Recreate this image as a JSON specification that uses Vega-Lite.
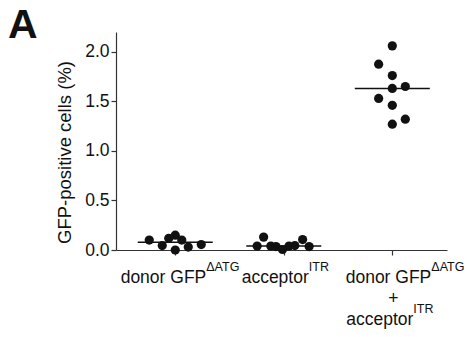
{
  "$schema": "https://vega.github.io/schema/vega-lite/v6.json",
  "width": 331,
  "height": 218,
  "autosize": "none",
  "padding": {"left": 116, "top": 32, "right": 20, "bottom": 87},
  "background": "white",
  "config": {
    "view": {"stroke": null},
    "font": "Liberation Sans",
    "axis": {
      "grid": false,
      "domainColor": "#333333",
      "tickColor": "#333333",
      "domainWidth": 1.2,
      "tickWidth": 1.2,
      "tickSize": 5,
      "labelColor": "#111111",
      "titleColor": "#111111",
      "labelFont": "Liberation Sans",
      "titleFont": "Liberation Sans",
      "labelFontSize": 17.5,
      "titleFontSize": 18.5,
      "titleFontWeight": "normal"
    },
    "text": {"font": "Liberation Sans", "color": "#111111", "baseline": "alphabetic"}
  },
  "title": {
    "text": "A",
    "anchor": "start",
    "frame": "group",
    "orient": "top",
    "offset": 0,
    "baseline": "top",
    "dx": -108,
    "dy": 15,
    "fontSize": 41,
    "fontWeight": "bold",
    "color": "#111111",
    "font": "Liberation Sans"
  },
  "datasets": {
    "cells": [
      {"group": "donor", "jitter": -4, "pct": 0.10},
      {"group": "donor", "jitter": -2, "pct": 0.045},
      {"group": "donor", "jitter": -1, "pct": 0.118},
      {"group": "donor", "jitter": 0, "pct": 0.15},
      {"group": "donor", "jitter": 1, "pct": 0.10},
      {"group": "donor", "jitter": 0, "pct": 0.0},
      {"group": "donor", "jitter": 2, "pct": 0.03},
      {"group": "donor", "jitter": 4, "pct": 0.055},
      {"group": "acceptor", "jitter": -4.1, "pct": 0.04},
      {"group": "acceptor", "jitter": -3.1, "pct": 0.13},
      {"group": "acceptor", "jitter": -2, "pct": 0.04},
      {"group": "acceptor", "jitter": -1.2, "pct": 0.035},
      {"group": "acceptor", "jitter": -0.2, "pct": 0.005},
      {"group": "acceptor", "jitter": 0.8, "pct": 0.04},
      {"group": "acceptor", "jitter": 1.7, "pct": 0.045},
      {"group": "acceptor", "jitter": 2.9, "pct": 0.105},
      {"group": "acceptor", "jitter": 3.9, "pct": 0.035},
      {"group": "both", "jitter": 0, "pct": 2.06},
      {"group": "both", "jitter": -2.1, "pct": 1.875},
      {"group": "both", "jitter": 0, "pct": 1.76},
      {"group": "both", "jitter": 0, "pct": 1.63},
      {"group": "both", "jitter": 2, "pct": 1.65},
      {"group": "both", "jitter": -2.1, "pct": 1.53},
      {"group": "both", "jitter": 0, "pct": 1.46},
      {"group": "both", "jitter": 2, "pct": 1.32},
      {"group": "both", "jitter": 0, "pct": 1.27}
    ],
    "labels": [
      {"group": "donor", "piece": "main1", "text": "donor GFP"},
      {"group": "donor", "piece": "sup1", "text": "ΔATG"},
      {"group": "acceptor", "piece": "main1", "text": "acceptor"},
      {"group": "acceptor", "piece": "sup1", "text": "ITR"},
      {"group": "both", "piece": "main1", "text": "donor GFP"},
      {"group": "both", "piece": "sup1", "text": "ΔATG"},
      {"group": "both", "piece": "plus", "text": "+"},
      {"group": "both", "piece": "main3", "text": "acceptor"},
      {"group": "both", "piece": "sup3", "text": "ITR"}
    ]
  },
  "layer": [
    {
      "data": {"name": "cells"},
      "mark": {"type": "circle", "size": 85, "opacity": 1, "color": "#111111"},
      "encoding": {
        "x": {
          "field": "group", "type": "nominal",
          "sort": ["donor", "acceptor", "both"],
          "scale": {"type": "point", "padding": 0.525, "align": 0.52},
          "axis": {"labels": false, "title": null, "ticks": true, "domain": true}
        },
        "xOffset": {
          "field": "jitter", "type": "quantitative",
          "scale": {"domain": [-5, 5], "range": [-32.5, 32.5]}
        },
        "y": {
          "field": "pct", "type": "quantitative",
          "scale": {"domain": [0, 2.2], "nice": false},
          "axis": {"values": [0, 0.5, 1, 1.5, 2], "format": ".1f", "labelPadding": 2, "title": "GFP-positive cells (%)", "titlePadding": 10, "titleY": 120}
        }
      }
    },
    {
      "data": {"name": "cells"},
      "mark": {"type": "tick", "orient": "horizontal", "size": 75, "thickness": 1.5, "color": "#111111", "opacity": 1},
      "encoding": {
        "x": {"field": "group", "type": "nominal", "sort": ["donor", "acceptor", "both"]},
        "y": {"aggregate": "median", "field": "pct", "type": "quantitative"}
      }
    },
    {
      "data": {"name": "labels"},
      "transform": [{"filter": "datum.group == 'donor' && datum.piece == 'main1'"}],
      "mark": {"type": "text", "align": "right", "dx": 31, "dy": 33, "fontSize": 17.5},
      "encoding": {"x": {"field": "group", "type": "nominal", "sort": ["donor", "acceptor", "both"]}, "y": {"datum": 0}, "text": {"field": "text"}}
    },
    {
      "data": {"name": "labels"},
      "transform": [{"filter": "datum.group == 'donor' && datum.piece == 'sup1'"}],
      "mark": {"type": "text", "align": "left", "dx": 31, "dy": 21, "fontSize": 12.5},
      "encoding": {"x": {"field": "group", "type": "nominal", "sort": ["donor", "acceptor", "both"]}, "y": {"datum": 0}, "text": {"field": "text"}}
    },
    {
      "data": {"name": "labels"},
      "transform": [{"filter": "datum.group == 'acceptor' && datum.piece == 'main1'"}],
      "mark": {"type": "text", "align": "right", "dx": 25, "dy": 33, "fontSize": 17.5},
      "encoding": {"x": {"field": "group", "type": "nominal", "sort": ["donor", "acceptor", "both"]}, "y": {"datum": 0}, "text": {"field": "text"}}
    },
    {
      "data": {"name": "labels"},
      "transform": [{"filter": "datum.group == 'acceptor' && datum.piece == 'sup1'"}],
      "mark": {"type": "text", "align": "left", "dx": 25, "dy": 21, "fontSize": 12.5},
      "encoding": {"x": {"field": "group", "type": "nominal", "sort": ["donor", "acceptor", "both"]}, "y": {"datum": 0}, "text": {"field": "text"}}
    },
    {
      "data": {"name": "labels"},
      "transform": [{"filter": "datum.group == 'both' && datum.piece == 'main1'"}],
      "mark": {"type": "text", "align": "right", "dx": 39, "dy": 33, "fontSize": 17.5},
      "encoding": {"x": {"field": "group", "type": "nominal", "sort": ["donor", "acceptor", "both"]}, "y": {"datum": 0}, "text": {"field": "text"}}
    },
    {
      "data": {"name": "labels"},
      "transform": [{"filter": "datum.group == 'both' && datum.piece == 'sup1'"}],
      "mark": {"type": "text", "align": "left", "dx": 39, "dy": 21, "fontSize": 12.5},
      "encoding": {"x": {"field": "group", "type": "nominal", "sort": ["donor", "acceptor", "both"]}, "y": {"datum": 0}, "text": {"field": "text"}}
    },
    {
      "data": {"name": "labels"},
      "transform": [{"filter": "datum.group == 'both' && datum.piece == 'plus'"}],
      "mark": {"type": "text", "align": "center", "dx": 1, "dy": 54, "fontSize": 17.5},
      "encoding": {"x": {"field": "group", "type": "nominal", "sort": ["donor", "acceptor", "both"]}, "y": {"datum": 0}, "text": {"field": "text"}}
    },
    {
      "data": {"name": "labels"},
      "transform": [{"filter": "datum.group == 'both' && datum.piece == 'main3'"}],
      "mark": {"type": "text", "align": "right", "dx": 21, "dy": 75, "fontSize": 17.5},
      "encoding": {"x": {"field": "group", "type": "nominal", "sort": ["donor", "acceptor", "both"]}, "y": {"datum": 0}, "text": {"field": "text"}}
    },
    {
      "data": {"name": "labels"},
      "transform": [{"filter": "datum.group == 'both' && datum.piece == 'sup3'"}],
      "mark": {"type": "text", "align": "left", "dx": 21, "dy": 63, "fontSize": 12.5},
      "encoding": {"x": {"field": "group", "type": "nominal", "sort": ["donor", "acceptor", "both"]}, "y": {"datum": 0}, "text": {"field": "text"}}
    }
  ]
}
